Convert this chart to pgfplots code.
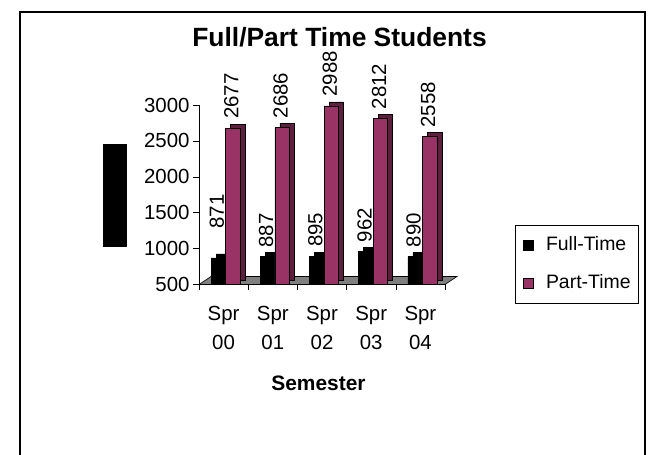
\documentclass[border=0pt]{standalone}
\usepackage{fontspec}
\setmainfont{Liberation Sans}
\usepackage{pgfplots}
\usepackage{pgfplotstable}
\pgfplotsset{compat=1.18}

\definecolor{plum}{HTML}{993366}
\definecolor{plumdark}{HTML}{5C1F3D}
\definecolor{floorgray}{HTML}{808080}
\newcommand{\lbl}{\fontsize{19.5}{23}\selectfont}
\newcommand{\tck}{\fontsize{20.5}{24}\selectfont}

% semester, head count, printed label (first one sits higher in the original)
\pgfplotstableread{
x y lbl
0 871 \hspace{20bp}871
1 887 887
2 895 895
3 962 962
4 890 890
}\fulltime
\pgfplotstableread{
x y lbl
0 2677 2677
1 2686 2686
2 2988 2988
3 2812 2812
4 2558 2558
}\parttime

\pgfplotsset{
  geom/.style={
    at={(199bp,170.5bp)}, anchor=south west,
    x=49.2bp, y=0.0718bp,
    xmin=-0.5, xmax=4.5, ymin=500, ymax=3080,
  },
  shade/.style={xshift=5bp, yshift=4bp, draw=black, line width=0.6bp, forget plot},
  valuelabels/.style={
    nodes near coords,
    point meta=explicit symbolic,
    every node near coord/.append style={rotate=90, anchor=west, font=\tck,
      inner sep=3bp, xshift=6bp, yshift=1.5bp, black},
  },
}

\begin{document}
\begin{tikzpicture}
\useasboundingbox (0,0) rectangle (657bp,455bp);
\draw[line width=1.5bp] (20bp,-3bp) -- (20bp,443bp) -- (645bp,443bp) -- (645bp,-3bp);
\node[font=\fontsize{26.5}{30}\selectfont\bfseries, anchor=base] at (339.5bp,408bp) {Full/Part Time Students};
\fill[black] (103bp,208bp) rectangle (127bp,311bp);

% floor of the 3-D plot area
\begin{axis}[geom, hide axis, clip=false]
\fill[floorgray, draw=black, line width=0.6bp]
  (axis cs:-0.5,500) -- (axis cs:4.5,500)
  -- ([shift={(12bp,8bp)}]axis cs:4.5,500)
  -- ([shift={(12bp,8bp)}]axis cs:-0.5,500) -- cycle;
\end{axis}

\begin{axis}[geom,
  ybar, bar width=14.5bp,
  axis x line*=bottom, axis y line*=left,
  y axis line style={draw=none},
  x axis line style={black, line width=0.6bp},
  ytick={500,1000,...,3000},
  xtick={0,...,4},
  xticklabels={{Spr\\00},{Spr\\01},{Spr\\02},{Spr\\03},{Spr\\04}},
  minor xtick={-0.5,0.5,...,4.5},
  major x tick style={draw=none},
  tick align=outside, major tick length=6bp, minor tick length=6bp,
  tick style={black, line width=0.6bp},
  tick label style={font=\tck},
  x tick label style={align=center, font=\fontsize{20.5}{29}\selectfont, yshift=-12bp},
  xlabel={Semester},
  xlabel style={font=\fontsize{21}{25}\selectfont\bfseries,
    at={(axis description cs:0.4858,-0.5697)}, anchor=base},
  legend style={at={(1.2846,0.3213)}, anchor=north west, draw=black, line width=0.8bp,
    inner xsep=8bp, inner ysep=11bp, row sep=20bp, column sep=12bp, font=\lbl,
    nodes={inner sep=0bp, text height=14bp, text depth=4bp}},
  legend cell align=left,
  /pgf/number format/1000 sep={},
  /pgf/number format/assume math mode=true,
]
\draw[black, line width=0.6bp] (axis cs:-0.5,500) -- (axis cs:-0.5,3000);

\addplot[shade, fill=black, bar shift=-5.2bp] table[x=x, y=y] {\fulltime};
\addplot[fill=black, draw=black, line width=0.6bp, bar shift=-5.2bp, valuelabels,
  legend image code/.code={\draw[fill=black, draw=black] (0bp,-5bp) rectangle (10bp,5bp);}]
  table[x=x, y=y, meta=lbl] {\fulltime};
\addlegendentry{Full-Time}

\addplot[shade, fill=plumdark, bar shift=9.3bp] table[x=x, y=y] {\parttime};
\addplot[fill=plum, draw=black, line width=0.6bp, bar shift=9.3bp, valuelabels,
  legend image code/.code={\draw[fill=plum, draw=black] (0bp,-5bp) rectangle (10bp,5bp);}]
  table[x=x, y=y, meta=lbl] {\parttime};
\addlegendentry{Part-Time}
\end{axis}
\end{tikzpicture}
\end{document}
